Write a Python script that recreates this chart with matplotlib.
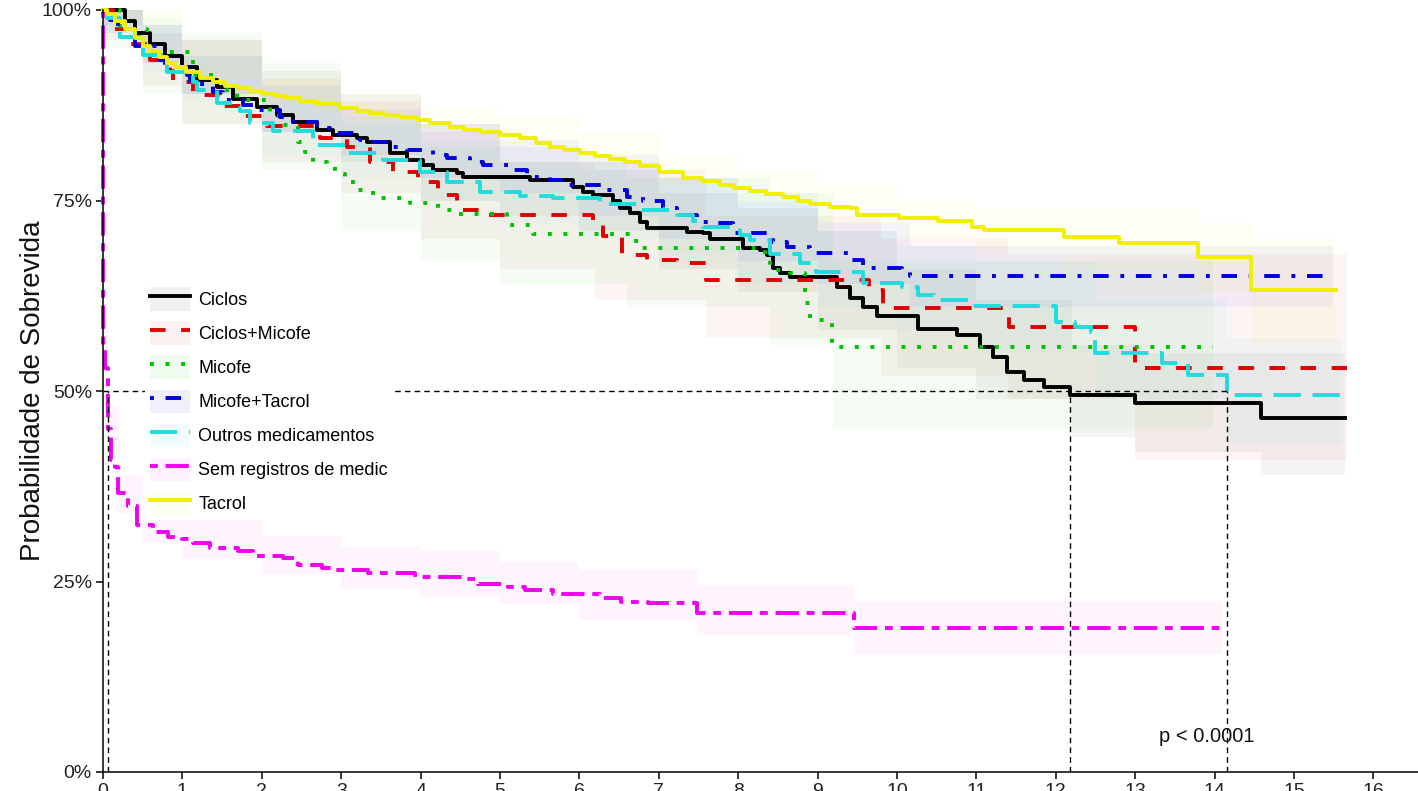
import matplotlib
matplotlib.use("Agg")
import matplotlib.pyplot as plt
from matplotlib.lines import Line2D
from matplotlib.patches import Patch

plt.rcParams['font.family'] = ['Liberation Sans', 'DejaVu Sans']

# ---- survival curves (time in years, survival proportion) ----
ciclos_t = [0, 0.28, 0.40, 0.59, 0.78, 1.00, 1.18, 1.44, 1.64, 1.94, 2.19, 2.39, 2.70, 2.90, 3.20,
            3.32, 3.61, 3.83, 4.03, 4.16, 4.46, 4.53, 5.38, 5.92, 6.05, 6.17, 6.42, 6.51, 6.64, 6.76,
            6.85, 7.36, 7.56, 7.64, 8.06, 8.27, 8.36, 8.44, 8.53, 8.65, 9.24, 9.41, 9.57, 9.75, 10.26,
            10.76, 11.05, 11.21, 11.39, 11.60, 11.85, 12.18, 13.00, 14.58, 15.64]
ciclos_s = [1.0, 0.985, 0.97, 0.955, 0.94, 0.925, 0.908, 0.899, 0.883, 0.873, 0.862, 0.853, 0.843, 0.836, 0.832,
            0.827, 0.812, 0.803, 0.796, 0.790, 0.786, 0.781, 0.777, 0.768, 0.761, 0.757, 0.750, 0.740, 0.733, 0.722,
            0.714, 0.709, 0.707, 0.700, 0.688, 0.685, 0.678, 0.661, 0.655, 0.650, 0.636, 0.622, 0.610, 0.598, 0.581,
            0.573, 0.558, 0.545, 0.525, 0.514, 0.505, 0.495, 0.484, 0.465, 0.465]

cicmic_t = [0, 0.13, 0.34, 0.59, 0.84, 0.88, 1.13, 1.47, 1.76, 2.07, 2.73, 3.07, 3.36, 3.65, 3.97,
            4.22, 4.46, 4.75, 6.17, 6.30, 6.54, 6.85, 7.23, 7.59, 9.65, 9.82, 11.41, 13.00, 15.67]
cicmic_s = [1.0, 0.975, 0.955, 0.935, 0.92, 0.906, 0.888, 0.874, 0.861, 0.848, 0.832, 0.820, 0.800, 0.787, 0.774,
            0.757, 0.738, 0.731, 0.718, 0.703, 0.678, 0.672, 0.668, 0.646, 0.633, 0.609, 0.584, 0.530, 0.530]

micofe_t = [0, 0.21, 0.55, 1.13, 1.39, 1.69, 2.10, 2.23, 2.46, 2.54, 2.64, 2.82, 2.92, 3.05, 3.17,
            3.32, 3.49, 3.87, 4.22, 4.41, 5.09, 5.42, 6.64, 6.76, 8.34, 8.40, 8.65, 8.84, 8.90, 9.18, 13.98]
micofe_s = [1.0, 0.975, 0.945, 0.915, 0.895, 0.882, 0.861, 0.849, 0.827, 0.814, 0.800, 0.797, 0.785, 0.774, 0.764,
            0.760, 0.753, 0.747, 0.738, 0.732, 0.718, 0.706, 0.697, 0.688, 0.678, 0.659, 0.655, 0.615, 0.593, 0.558, 0.558]

mictac_t = [0, 0.09, 0.19, 0.40, 0.72, 0.78, 1.06, 1.10, 1.39, 1.51, 1.76, 1.94, 2.23, 2.39, 2.70,
            2.86, 3.24, 3.32, 3.65, 3.83, 4.16, 4.33, 4.62, 4.79, 5.13, 5.34, 5.63, 5.84, 6.30, 6.60,
            6.80, 7.05, 7.23, 7.48, 7.68, 7.93, 8.44, 8.61, 8.90, 9.42, 9.57, 9.67, 10.06, 10.16, 15.49]
mictac_s = [1.0, 0.987, 0.975, 0.953, 0.935, 0.925, 0.915, 0.903, 0.893, 0.882, 0.875, 0.869, 0.860, 0.853, 0.845,
            0.839, 0.830, 0.827, 0.820, 0.816, 0.810, 0.806, 0.800, 0.797, 0.790, 0.781, 0.777, 0.770, 0.764, 0.755,
            0.750, 0.740, 0.731, 0.722, 0.720, 0.707, 0.696, 0.689, 0.681, 0.672, 0.665, 0.661, 0.657, 0.651, 0.651]

outros_t = [0, 0.05, 0.21, 0.50, 0.81, 1.13, 1.18, 1.44, 1.73, 1.85, 2.14, 2.64, 3.07, 3.53, 3.99,
            4.33, 4.75, 5.25, 5.67, 6.26, 6.73, 7.23, 7.43, 7.56, 8.02, 8.15, 8.40, 8.78, 8.98, 9.57,
            10.06, 10.26, 10.47, 10.92, 12.00, 12.24, 12.44, 12.49, 13.34, 13.66, 14.16, 15.59]
outros_s = [1.0, 0.99, 0.965, 0.941, 0.919, 0.905, 0.895, 0.878, 0.867, 0.852, 0.841, 0.823, 0.812, 0.803, 0.787,
            0.774, 0.761, 0.756, 0.753, 0.745, 0.738, 0.731, 0.723, 0.715, 0.705, 0.698, 0.680, 0.668, 0.656, 0.642,
            0.636, 0.626, 0.619, 0.612, 0.590, 0.584, 0.578, 0.550, 0.537, 0.521, 0.495, 0.495]

semreg_t = [0, 0.0, 0.03, 0.06, 0.10, 0.15, 0.19, 0.31, 0.43, 0.63, 0.82, 0.99, 1.13, 1.35, 1.70,
            1.89, 2.27, 2.46, 2.76, 2.92, 3.34, 3.93, 4.53, 4.72, 5.10, 5.31, 5.67, 6.26, 6.52, 6.86,
            7.48, 9.46, 14.09]
semreg_s = [1.0, 0.56, 0.53, 0.45, 0.41, 0.40, 0.366, 0.349, 0.324, 0.315, 0.308, 0.306, 0.300, 0.294, 0.290,
            0.283, 0.281, 0.272, 0.268, 0.265, 0.261, 0.256, 0.253, 0.247, 0.243, 0.239, 0.234, 0.228, 0.223, 0.222,
            0.209, 0.189, 0.189]

tacrol_t = [0, 0.05, 0.15, 0.28, 0.40, 0.50, 0.59, 0.70, 0.80, 0.91, 1.05, 1.22, 1.38, 1.54, 1.70,
            1.85, 2.00, 2.17, 2.30, 2.48, 2.70, 2.98, 3.20, 3.36, 3.55, 3.74, 3.95, 4.12, 4.37, 4.55,
            4.75, 5.00, 5.25, 5.45, 5.63, 5.80, 6.01, 6.20, 6.39, 6.58, 6.76, 7.00, 7.30, 7.55, 7.77,
            7.95, 8.15, 8.35, 8.56, 8.75, 8.90, 9.15, 9.41, 9.50, 10.03, 10.52, 10.94, 11.10, 12.10, 12.80,
            13.79, 14.46, 15.53]
tacrol_s = [1.0, 0.995, 0.985, 0.975, 0.963, 0.953, 0.946, 0.938, 0.931, 0.925, 0.918, 0.911, 0.905, 0.900, 0.897,
            0.894, 0.890, 0.887, 0.884, 0.881, 0.877, 0.872, 0.868, 0.865, 0.862, 0.859, 0.855, 0.852, 0.846, 0.843,
            0.840, 0.836, 0.832, 0.826, 0.820, 0.816, 0.812, 0.808, 0.805, 0.800, 0.795, 0.788, 0.780, 0.775, 0.770,
            0.766, 0.762, 0.758, 0.754, 0.749, 0.745, 0.742, 0.740, 0.731, 0.727, 0.723, 0.715, 0.711, 0.702, 0.694,
            0.676, 0.632, 0.632]

# ---- confidence bands (coarse steps read from the shaded areas) ----
ciclos_bt = [0, 0.5, 1.0, 2.0, 3.0, 4.0, 5.0, 6.0, 7.0, 8.0, 9.0, 10.0, 11.0, 12.2, 13.0, 14.58, 15.64]
ciclos_lo = [0.98, 0.93, 0.89, 0.84, 0.80, 0.75, 0.73, 0.71, 0.66, 0.63, 0.58, 0.53, 0.49, 0.44, 0.42, 0.39, 0.39]
ciclos_hi = [1.0, 0.98, 0.96, 0.92, 0.89, 0.85, 0.82, 0.80, 0.76, 0.74, 0.71, 0.66, 0.62, 0.56, 0.55, 0.55, 0.55]

cicmic_bt = [0, 0.5, 1, 2, 3, 4, 5, 6.2, 7.6, 9.8, 11.4, 13.0, 15.67]
cicmic_lo = [0.96, 0.90, 0.85, 0.80, 0.76, 0.70, 0.66, 0.62, 0.57, 0.52, 0.49, 0.41, 0.41]
cicmic_hi = [1.0, 0.97, 0.96, 0.91, 0.88, 0.84, 0.80, 0.79, 0.73, 0.70, 0.68, 0.68, 0.68]

micofe_bt = [0, 0.5, 1, 2, 3, 4, 5, 6.6, 8.4, 9.2, 13.98]
micofe_lo = [0.95, 0.89, 0.85, 0.79, 0.71, 0.67, 0.64, 0.61, 0.56, 0.45, 0.45]
micofe_hi = [1.0, 0.99, 0.97, 0.93, 0.86, 0.82, 0.80, 0.78, 0.76, 0.67, 0.67]

mictac_bt = [0, 0.5, 1, 2, 3, 4, 5, 6, 7, 8, 9, 10.16, 15.49]
mictac_lo = [0.97, 0.93, 0.89, 0.84, 0.81, 0.78, 0.76, 0.73, 0.70, 0.67, 0.64, 0.61, 0.61]
mictac_hi = [1.0, 0.98, 0.94, 0.90, 0.87, 0.85, 0.83, 0.81, 0.78, 0.75, 0.72, 0.69, 0.69]

outros_bt = [0, 0.5, 1, 2, 3, 4, 5, 6, 7, 8, 9, 10, 11, 12.5, 14.16, 15.59]
outros_lo = [0.97, 0.92, 0.88, 0.81, 0.78, 0.75, 0.72, 0.70, 0.68, 0.64, 0.61, 0.58, 0.55, 0.49, 0.43, 0.43]
outros_hi = [1.0, 0.97, 0.94, 0.88, 0.85, 0.83, 0.80, 0.79, 0.78, 0.76, 0.71, 0.69, 0.67, 0.62, 0.57, 0.57]

semreg_bt = [0, 0.06, 0.2, 0.5, 1, 2, 3, 4, 5, 6, 7.48, 9.46, 14.09]
semreg_lo = [0.53, 0.42, 0.34, 0.30, 0.28, 0.26, 0.24, 0.23, 0.22, 0.20, 0.18, 0.155, 0.155]
semreg_hi = [0.59, 0.48, 0.39, 0.35, 0.335, 0.31, 0.295, 0.29, 0.275, 0.265, 0.245, 0.225, 0.225]

tacrol_bt = [0, 1, 2, 3, 4, 5, 6, 7, 8, 9, 10, 11, 12.1, 13.79, 14.46, 15.53]
tacrol_lo = [0.98, 0.91, 0.88, 0.86, 0.84, 0.82, 0.80, 0.77, 0.75, 0.72, 0.70, 0.68, 0.66, 0.63, 0.56, 0.56]
tacrol_hi = [1.0, 0.94, 0.91, 0.89, 0.87, 0.86, 0.84, 0.81, 0.79, 0.77, 0.75, 0.74, 0.74, 0.72, 0.70, 0.70]

labels = ['Ciclos', 'Ciclos+Micofe', 'Micofe', 'Micofe+Tacrol',
          'Outros medicamentos', 'Sem registros de medic', 'Tacrol']
medians = [12.18, 14.16, 0.06]
pval = 'p < 0.0001'

curves = [(ciclos_t, ciclos_s, ciclos_bt, ciclos_lo, ciclos_hi),
          (cicmic_t, cicmic_s, cicmic_bt, cicmic_lo, cicmic_hi),
          (micofe_t, micofe_s, micofe_bt, micofe_lo, micofe_hi),
          (mictac_t, mictac_s, mictac_bt, mictac_lo, mictac_hi),
          (outros_t, outros_s, outros_bt, outros_lo, outros_hi),
          (semreg_t, semreg_s, semreg_bt, semreg_lo, semreg_hi),
          (tacrol_t, tacrol_s, tacrol_bt, tacrol_lo, tacrol_hi)]

colors = ['#000000', '#E00000', '#00C000', '#0000E0', '#20DCDC', '#F000F0', '#F0F000']
styles = ['-', (0, (4, 4)), (0, (1, 3)), (0, (1, 3, 4, 3)), (0, (7, 3)), (0, (2, 2, 6, 2)), '-']
lw = 2.8
band_alpha = 0.045

fig = plt.figure(figsize=(14.18, 7.91), dpi=100)
W, H = 1418, 791
ax = fig.add_axes([103 / W, (H - 772) / H, 1 - 103 / W, (772 - 10) / H])

for (t, s, bt, lo, hi), c, ls in zip(curves, colors, styles):
    ax.fill_between(bt, lo, hi, step='post', color=c, alpha=band_alpha, linewidth=0)
for (t, s, bt, lo, hi), c, ls in zip(curves, colors, styles):
    ax.plot(t, s, drawstyle='steps-post', color=c, linestyle=ls, linewidth=lw, clip_on=False)

# median survival lines
med_kw = dict(color='black', linewidth=1.0, linestyle=(0, (4, 3)))
ax.plot([0, max(medians)], [0.5, 0.5], **med_kw)
for m in medians:
    ax.plot([m, m], [0, 0.5], **med_kw)

ax.text(13.3, 0.046, pval, fontsize=14.5, va='center', ha='left', color='#111111')

ax.set_xlim(0, 1315 / 79.4)
ax.set_ylim(0, 1.0)
ax.set_xticks(range(0, 17))
ax.set_yticks([0, 0.25, 0.5, 0.75, 1.0])
ax.set_yticklabels(['0%', '25%', '50%', '75%', '100%'])
ax.tick_params(labelsize=14, length=5, width=1.1, pad=3, labelcolor='#222222')
for side in ['top', 'right']:
    ax.spines[side].set_visible(False)
for side in ['left', 'bottom']:
    ax.spines[side].set_linewidth(1.1)

ax.set_ylabel('Probabilidade de Sobrevida', fontsize=20, color='#111111')
ax.yaxis.set_label_coords(-(103 - 46) / 1315, 0.5)

handles = []
for c, ls in zip(colors, styles):
    handles.append((Patch(facecolor=c, alpha=0.06, edgecolor='none'),
                    Line2D([], [], color=c, linestyle=ls, linewidth=lw)))
leg = ax.legend(handles, labels, loc='upper left', bbox_to_anchor=((145 - 103) / 1315, (772 - 282) / 762),
                fontsize=13, frameon=True, facecolor='white', edgecolor='none', framealpha=1,
                handlelength=2.2, handleheight=1.6, handletextpad=0.45, labelspacing=0.6,
                borderpad=0.3, borderaxespad=0)
leg.get_frame().set_linewidth(0)

fig.savefig('out.png', dpi=100)
